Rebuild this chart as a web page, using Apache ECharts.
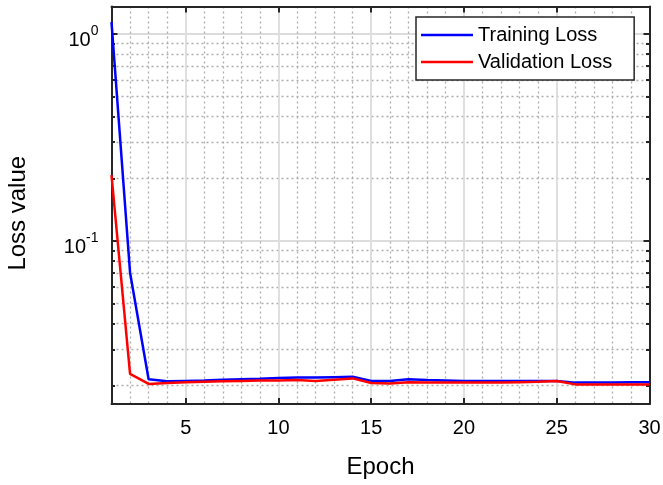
<!DOCTYPE html>
<html>
<head>
<meta charset="utf-8">
<script src="https://cdn.jsdelivr.net/npm/echarts@6/dist/echarts.min.js"></script>
<style>html,body{margin:0;padding:0;background:#fff;}#chart{width:663px;height:485px;}</style>
</head>
<body>
<div id="chart"></div>
<script>
const epochs = [1,2,3,4,5,6,7,8,9,10,11,12,13,14,15,16,17,18,19,20,21,22,23,24,25,26,27,28,29,30];
const trainingLoss = [1.14,0.0703,0.0215,0.0210,0.0211,0.0212,0.0214,0.0215,0.0216,0.0218,0.0219,0.0219,0.0220,0.0221,0.0211,0.0211,0.0215,0.0213,0.0212,0.0211,0.0211,0.0211,0.0211,0.0211,0.0211,0.0207,0.0207,0.0207,0.0208,0.0208];
const validationLoss = [0.208,0.0228,0.0204,0.0206,0.0208,0.0209,0.0210,0.0211,0.0212,0.0212,0.0213,0.0211,0.0214,0.0217,0.0206,0.0205,0.0208,0.0207,0.0207,0.0207,0.0207,0.0207,0.0208,0.0209,0.0211,0.0203,0.0203,0.0203,0.0203,0.0203];
const xRange = [1, 30];
const yRange = [0.01632, 1.357];
const xMajorTicks = [5,10,15,20,25,30];
const xMinorTicks = [2,3,4,6,7,8,9,11,12,13,14,16,17,18,19,21,22,23,24,26,27,28,29];
const yMajorTicks = [0.1, 1];
const yMinorTicks = [0.02,0.03,0.04,0.05,0.06,0.07,0.08,0.09,0.2,0.3,0.4,0.5,0.6,0.7,0.8,0.9];
const seriesNames = ['Training Loss', 'Validation Loss'];

const FONT = 'Liberation Sans, Arial, Helvetica, sans-serif';
const AX = '#262626';
const lg = v => Math.log10(v);
const yMin = lg(yRange[0]), yMax = lg(yRange[1]);
const yMajorLog = yMajorTicks.map(lg);
const yMinorLog = yMinorTicks.map(lg);

const chart = echarts.init(document.getElementById('chart'), null, {renderer: 'canvas'});

const majorGrid = {show: true, lineStyle: {color: '#dcdcdc', width: 1.8, type: 'solid'}};
const minorGrid = {show: true, lineStyle: {color: '#adadad', width: 1.3, type: [2, 3]}};

function xAx(extra) {
  return Object.assign({type: 'value', min: xRange[0], max: xRange[1], gridIndex: 0,
    axisLine: {show: false}, axisLabel: {show: false}, axisTick: {show: false}, splitLine: {show: false}}, extra);
}
function yAx(extra) {
  return Object.assign({type: 'value', min: yMin, max: yMax, gridIndex: 0,
    axisLine: {show: false}, axisLabel: {show: false}, axisTick: {show: false}, splitLine: {show: false}}, extra);
}

const option = {
  animation: false,
  backgroundColor: '#fff',
  grid: {left: 111.5, right: 13.5, top: 6.5, bottom: 81, containLabel: false, outerBoundsMode: 'none'},
  legend: {
    orient: 'vertical', left: 416, top: 17,
    data: seriesNames.map(n => ({name: n, icon: 'rect'})), selectedMode: false,
    itemWidth: 52, itemHeight: 2.5, itemGap: 7,
    padding: [8, 22, 8, 5],
    borderColor: AX, borderWidth: 1.5, backgroundColor: '#fff',
    textStyle: {fontFamily: FONT, fontSize: 20, color: '#000', lineHeight: 20}
  },
  xAxis: [
    xAx({position: 'bottom',
      name: 'Epoch', nameLocation: 'middle', nameGap: 51,
      nameTextStyle: {fontFamily: FONT, fontSize: 24, color: '#000'},
      axisLine: {show: true, onZero: false, lineStyle: {color: AX, width: 2}},
      axisTick: {show: true, inside: true, length: 6, customValues: xMajorTicks, lineStyle: {color: AX, width: 2}},
      axisLabel: {show: true, customValues: xMajorTicks, margin: 14, fontFamily: FONT, fontSize: 20, color: '#000'},
      splitLine: majorGrid}),
    xAx({position: 'bottom', axisTick: {show: false, customValues: xMinorTicks}, splitLine: minorGrid}),
    xAx({position: 'top',
      axisLine: {show: true, onZero: false, lineStyle: {color: AX, width: 2}},
      axisTick: {show: true, inside: true, length: 6, customValues: xMajorTicks, lineStyle: {color: AX, width: 2}}})
  ],
  yAxis: [
    yAx({position: 'left',
      name: 'Loss value', nameLocation: 'middle', nameGap: 81,
      nameTextStyle: {fontFamily: FONT, fontSize: 24, color: '#000', padding: [0, 16, 0, 0]},
      axisLine: {show: true, onZero: false, lineStyle: {color: AX, width: 2}},
      axisTick: {show: true, inside: true, length: 6, customValues: yMajorLog, lineStyle: {color: AX, width: 2}},
      axisLabel: {show: true, customValues: yMajorLog, margin: 13, padding: [7, 0, 0, 0],
        formatter: v => '{b|10}{s|' + Math.round(v) + '}',
        rich: {
          b: {fontFamily: FONT, fontSize: 20, color: '#000', verticalAlign: 'bottom', lineHeight: 26},
          s: {fontFamily: FONT, fontSize: 14, color: '#000', verticalAlign: 'top', lineHeight: 14}
        }},
      splitLine: majorGrid}),
    yAx({position: 'left',
      axisTick: {show: true, inside: true, length: 3.5, customValues: yMinorLog, lineStyle: {color: AX, width: 2}},
      splitLine: minorGrid}),
    yAx({position: 'right',
      axisLine: {show: true, onZero: false, lineStyle: {color: AX, width: 2}},
      axisTick: {show: true, inside: true, length: 6, customValues: yMajorLog, lineStyle: {color: AX, width: 2}}}),
    yAx({position: 'right',
      axisTick: {show: true, inside: true, length: 3.5, customValues: yMinorLog, lineStyle: {color: AX, width: 2}}})
  ],
  series: [
    {name: seriesNames[0], type: 'line', xAxisIndex: 0, yAxisIndex: 0, symbol: 'none',
      lineStyle: {color: '#0000ff', width: 2.5}, itemStyle: {color: '#0000ff'},
      data: epochs.map((e, i) => [e, lg(trainingLoss[i])]), z: 3},
    {name: seriesNames[1], type: 'line', xAxisIndex: 0, yAxisIndex: 0, symbol: 'none',
      lineStyle: {color: '#ff0000', width: 2.5}, itemStyle: {color: '#ff0000'},
      data: epochs.map((e, i) => [e, lg(validationLoss[i])]), z: 4}
  ]
};
chart.setOption(option);
</script>
</body>
</html>
